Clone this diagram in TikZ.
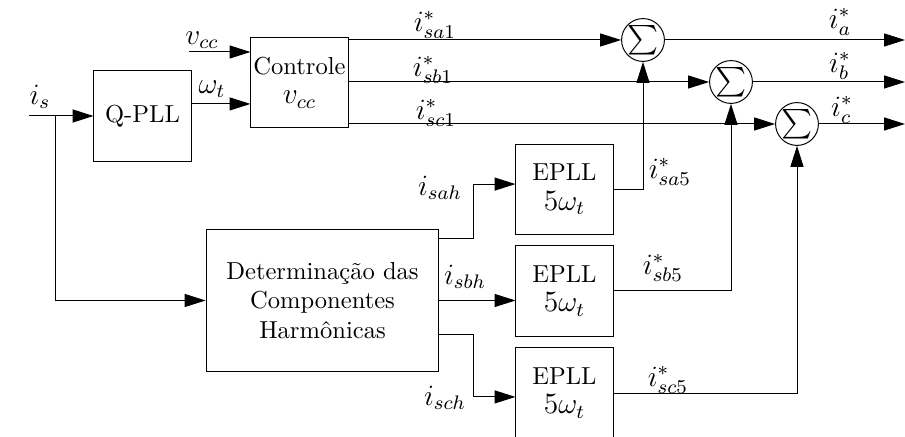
\documentclass[tikz,border=0pt]{standalone}
\usepackage{amsmath}
\usepackage{amssymb}
\usepackage{tikz}
\usetikzlibrary{arrows.meta}

\begin{document}
\begin{tikzpicture}[x=0.407pt, y=-0.407pt,
  blk/.style={draw, minimum width=39.5pt, minimum height=37pt, inner sep=1pt, align=center},
  sumnode/.style={draw, circle, minimum size=16.3pt, inner sep=0pt, font=\large},
  sig/.style={-{Triangle[length=8.5pt, width=5.3pt]}},
  lbl/.style={inner sep=0pt, font=\large}]
  \useasboundingbox (0,0) rectangle (905,437);
  % Blocks
  \node[blk] (qpll) at (142.5,116) {Q-PLL};
  \node[blk] (ctrl) at (299.5,82.5) {Controle\\{\large $v_{cc}$}};
  \node[blk, minimum width=94.8pt, minimum height=58.2pt] (det) at (322.5,300.5) {Determinação das\\Componentes\\Harmônicas};
  \node[blk] (e1) at (564.5,189.5) {EPLL\\{\large $5\omega_t$}};
  \node[blk] (e2) at (564.5,291) {EPLL\\{\large $5\omega_t$}};
  \node[blk] (e3) at (564.5,393) {EPLL\\{\large $5\omega_t$}};
  % Summing junctions
  \node[sumnode] (sa) at (643,40) {$\sum$};
  \node[sumnode] (sb) at (731,82) {$\sum$};
  \node[sumnode] (sc) at (797,124) {$\sum$};
  % Free ends
  \coordinate (is) at (29,116);
  \coordinate (jn) at (55,116);
  \coordinate (vin) at (189,52);
  \coordinate (w1) at ([yshift=4.9pt]qpll.east);
  \coordinate (ka) at (473,239);
  \coordinate (kc) at (473,334);
  \coordinate (oa) at (905,40);
  \coordinate (ob) at (905,82);
  \coordinate (oc) at (905,124);
  % Inputs
  \draw[sig] (is) -- (qpll.west);
  \draw[sig] (jn) |- (det.west);
  \draw[sig] (vin) -- (vin -| ctrl.west);
  \draw[sig] (w1) -- (w1 -| ctrl.west);
  % Fundamental references
  \draw[sig] (ctrl.east |- sa) -- (sa);
  \draw[sig] (ctrl.east |- sb) -- (sb);
  \draw[sig] (ctrl.east |- sc) -- (sc);
  % Harmonic branches
  \draw[sig] (ka -| det.east) -- (ka) |- ([yshift=2.2pt]e1.west);
  \draw[sig] (det.east) -- (det.east -| e2.west);
  \draw[sig] (kc -| det.east) -- (kc) |- ([yshift=-1.6pt]e3.west);
  \draw[sig] (e1.east) -| (sa.south);
  \draw[sig] (e2.east) -| (sb.south);
  \draw[sig] (e3.east) -| (sc.south);
  % Outputs
  \draw[sig] (sa.east) -- (oa);
  \draw[sig] (sb.east) -- (ob);
  \draw[sig] (sc.east) -- (oc);
  % Labels
  \node[lbl] (lis) at (40,97) {$i_s$};
  \node[lbl] (lvcc) at (202,40) {$v_{cc}$};
  \node[lbl] (lw) at (212,89) {$\omega_t$};
  \node[lbl] (lsa1) at (435,25) {$i^*_{sa1}$};
  \node[lbl] (lsb1) at (433,70) {$i^*_{sb1}$};
  \node[lbl] (lsc1) at (436,113) {$i^*_{sc1}$};
  \node[lbl] (la) at (840,22) {$i^*_{a}$};
  \node[lbl] (lb) at (840,66) {$i^*_{b}$};
  \node[lbl] (lc) at (842,110) {$i^*_{c}$};
  \node[lbl] (lsah) at (440,188) {$i_{sah}$};
  \node[lbl] (lsbh) at (465,277) {$i_{sbh}$};
  \node[lbl] (lsch) at (445,398) {$i_{sch}$};
  \node[lbl] (lsa5) at (670,172) {$i^*_{sa5}$};
  \node[lbl] (lsb5) at (663,268) {$i^*_{sb5}$};
  \node[lbl] (lsc5) at (668,380) {$i^*_{sc5}$};
\end{tikzpicture}
\end{document}
